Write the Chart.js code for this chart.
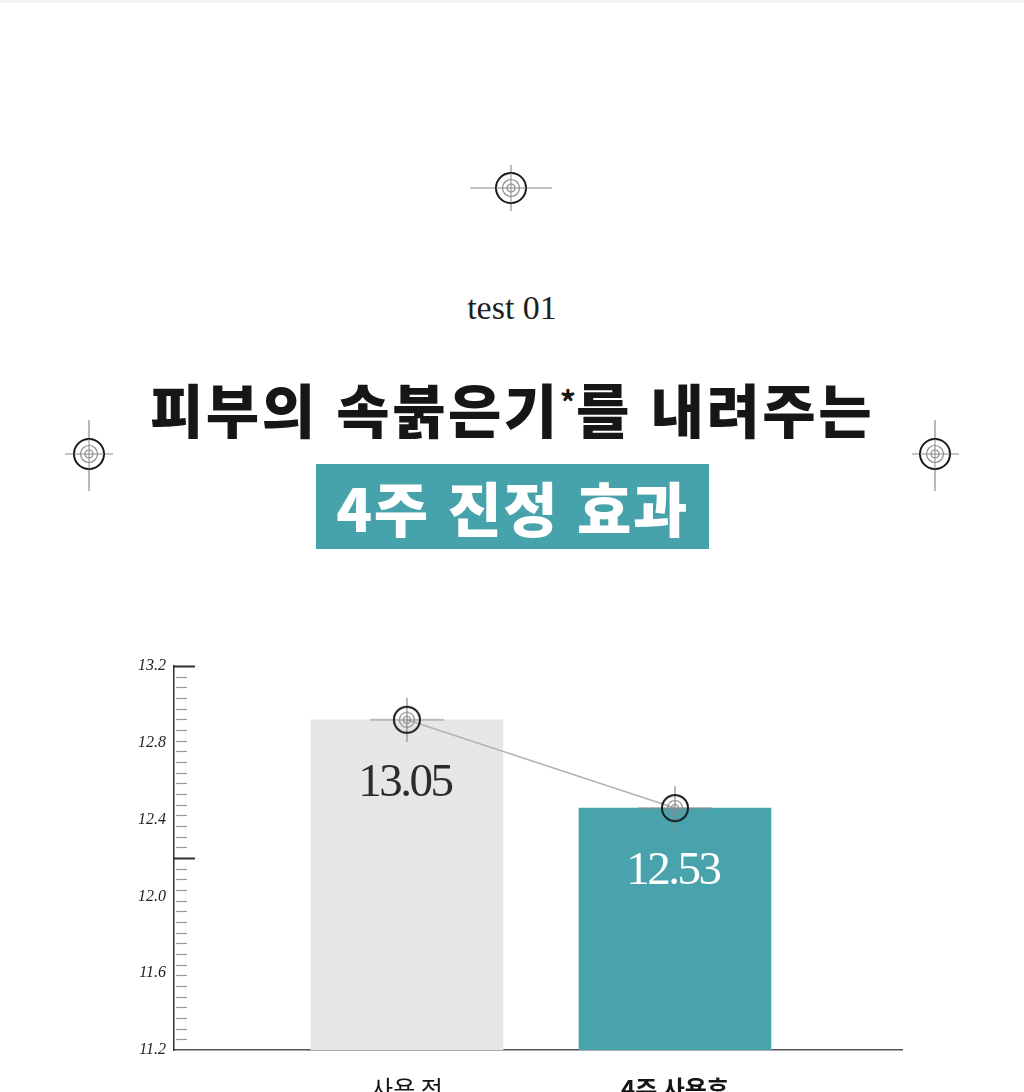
<!DOCTYPE html>
<html lang="ko">
<head>
<meta charset="utf-8">
<title>피부의 속붉은기 4주 진정 효과</title>
<script src="https://cdn.jsdelivr.net/npm/chart.js@4/dist/chart.umd.min.js"></script>
<style>
  html, body { margin: 0; padding: 0; background: #ffffff; }
  body { width: 1024px; height: 1092px; position: relative; overflow: hidden; }
  #topband { position: absolute; left: 0; top: 0; width: 1024px; height: 3px; background: #f4f4f4; }
  #deco { position: absolute; left: 0; top: 0; }
  #test { position: absolute; left: 0; width: 1024px; top: 291px; text-align: center;
          font-family: "Liberation Serif", serif; font-size: 34px; line-height: 34px; color: #1e1e1e; }
  #title { position: absolute; left: 0; width: 1024px; top: 379px; text-align: center;
           font-family: "Noto Sans CJK KR", sans-serif; font-weight: 900; font-size: 58px;
           line-height: 58px; color: #161616; letter-spacing: 2.5px; }
  #title sup { font-size: 32px; vertical-align: 0; position: relative; top: -18px; font-weight: 700; letter-spacing: 0; }
  #box { position: absolute; left: 316px; top: 464px; width: 393px; height: 85px; background: #47a3ab;
         color: #ffffff; text-align: center; font-family: "Noto Sans CJK KR", sans-serif;
         font-weight: 900; font-size: 59px; line-height: 85px; letter-spacing: 1.5px; }
  #chartwrap { position: absolute; left: 0; top: 640px; width: 1024px; height: 452px; }
</style>
</head>
<body>
<div id="topband"></div>
<svg id="deco" width="1024" height="1092" xmlns="http://www.w3.org/2000/svg">
  <g transform="translate(511,188)">
    <line x1="-41" y1="0" x2="41" y2="0" stroke="#8a8a8a" stroke-width="1.2"/>
    <line x1="0" y1="-23" x2="0" y2="23" stroke="#8a8a8a" stroke-width="1.2"/>
    <circle r="15" fill="#fff" stroke="#1a1a1a" stroke-width="2"/>
    <circle r="8.5" fill="none" stroke="#8a8a8a" stroke-width="1.2"/>
    <circle r="4" fill="none" stroke="#8a8a8a" stroke-width="1.2"/>
    <line x1="-15" y1="0" x2="15" y2="0" stroke="#8a8a8a" stroke-width="1"/>
    <line x1="0" y1="-15" x2="0" y2="15" stroke="#8a8a8a" stroke-width="1"/>
  </g>
  <g transform="translate(89,454)">
    <line x1="-24" y1="0" x2="24" y2="0" stroke="#8a8a8a" stroke-width="1.2"/>
    <line x1="0" y1="-34" x2="0" y2="37" stroke="#8a8a8a" stroke-width="1.2"/>
    <circle r="15" fill="#fff" stroke="#1a1a1a" stroke-width="2"/>
    <circle r="8.5" fill="none" stroke="#8a8a8a" stroke-width="1.2"/>
    <circle r="4" fill="none" stroke="#8a8a8a" stroke-width="1.2"/>
    <line x1="-15" y1="0" x2="15" y2="0" stroke="#8a8a8a" stroke-width="1"/>
    <line x1="0" y1="-15" x2="0" y2="15" stroke="#8a8a8a" stroke-width="1"/>
  </g>
  <g transform="translate(935,454)">
    <line x1="-23" y1="0" x2="24" y2="0" stroke="#8a8a8a" stroke-width="1.2"/>
    <line x1="0" y1="-34" x2="0" y2="37" stroke="#8a8a8a" stroke-width="1.2"/>
    <circle r="15" fill="#fff" stroke="#1a1a1a" stroke-width="2"/>
    <circle r="8.5" fill="none" stroke="#8a8a8a" stroke-width="1.2"/>
    <circle r="4" fill="none" stroke="#8a8a8a" stroke-width="1.2"/>
    <line x1="-15" y1="0" x2="15" y2="0" stroke="#8a8a8a" stroke-width="1"/>
    <line x1="0" y1="-15" x2="0" y2="15" stroke="#8a8a8a" stroke-width="1"/>
  </g>
</svg>
<div id="test">test 01</div>
<div id="title">피부의 속붉은기<sup>*</sup>를 내려주는</div>
<div id="box">4주 진정 효과</div>
<div id="chartwrap"><canvas id="chart"></canvas></div>

<script>
// ---------------- data ----------------
const categories = ['사용 전', '4주 사용후'];
const barValues = [12.92, 12.46];          // bar tops as read against the axis
const valueLabels = ['13.05', '12.53'];    // numbers printed inside the bars
const yTickLabels = [11.2, 11.6, 12.0, 12.4, 12.8, 13.2];
const yMin = 11.2;
const yMax = 13.2;
const minorTickCount = 36;
const majorTickValues = [12.2, 13.2];

// ---------------- crosshair point image ----------------
function makeCrosshair() {
  const c = document.createElement('canvas');
  c.width = 80; c.height = 46;
  const g = c.getContext('2d');
  const cx = 40, cy = 23;
  g.strokeStyle = '#8a8a8a'; g.lineWidth = 1.2;
  g.beginPath(); g.moveTo(cx - 37, cy); g.lineTo(cx + 37, cy); g.stroke();
  g.beginPath(); g.moveTo(cx, cy - 22); g.lineTo(cx, cy + 22); g.stroke();
  g.beginPath(); g.arc(cx, cy, 7.5, 0, Math.PI * 2); g.stroke();
  g.beginPath(); g.arc(cx, cy, 3.5, 0, Math.PI * 2); g.stroke();
  g.strokeStyle = '#1a1a1a'; g.lineWidth = 2;
  g.beginPath(); g.arc(cx, cy, 13, 0, Math.PI * 2); g.stroke();
  return c;
}
const crosshair = makeCrosshair();

// ---------------- plugins ----------------
const axisTicksPlugin = {
  id: 'axisTicks',
  afterDraw(chart) {
    const y = chart.scales.y;
    const left = chart.chartArea.left;
    const ctx = chart.ctx;
    ctx.save();
    for (let i = 1; i <= minorTickCount; i++) {
      const v = yMin + i * (yMax - yMin) / minorTickCount;
      const isMajor = majorTickValues.some(m => Math.abs(m - v) < 1e-6);
      const py = Math.round(y.getPixelForValue(v)) + 0.5;
      ctx.beginPath();
      if (isMajor) {
        ctx.strokeStyle = '#2e2e2e'; ctx.lineWidth = 2;
        ctx.moveTo(left, py); ctx.lineTo(left + 21, py);
      } else {
        ctx.strokeStyle = '#9a9a9a'; ctx.lineWidth = 1.2;
        ctx.moveTo(left + 2, py); ctx.lineTo(left + 13, py);
      }
      ctx.stroke();
    }
    ctx.restore();
  }
};

const valueLabelPlugin = {
  id: 'valueLabels',
  afterDatasetsDraw(chart) {
    const meta = chart.getDatasetMeta(1);
    const ctx = chart.ctx;
    ctx.save();
    ctx.font = '47px "Liberation Serif", serif';
    ctx.letterSpacing = '-2.5px';
    ctx.textAlign = 'center';
    ctx.textBaseline = 'middle';
    meta.data.forEach((el, i) => {
      ctx.fillStyle = i === 0 ? '#2b2b2b' : '#ffffff';
      ctx.fillText(valueLabels[i], el.x - 2, el.y + 64);
    });
    ctx.restore();
  }
};

// ---------------- chart ----------------
const points = barValues.map((v, i) => ({ x: i, y: v }));

new Chart(document.getElementById('chart'), {
  type: 'bar',
  data: {
    datasets: [
      {
        type: 'line',
        data: points,
        borderColor: '#b3b3b3',
        borderWidth: 1.5,
        pointStyle: crosshair,
        pointRadius: 13,
        order: 0
      },
      {
        type: 'bar',
        data: points,
        backgroundColor: ['#e6e6e6', '#48a3ac'],
        barThickness: 192,
        borderWidth: 0,
        order: 1
      }
    ]
  },
  plugins: [axisTicksPlugin, valueLabelPlugin],
  options: {
    responsive: true,
    maintainAspectRatio: false,
    animation: false,
    devicePixelRatio: 1,
    layout: { padding: { top: 26, right: 122, left: 0, bottom: 0 } },
    plugins: { legend: { display: false }, tooltip: { enabled: false } },
    scales: {
      x: {
        type: 'linear',
        offset: false,
        min: -0.869,
        max: 1.847,
        afterBuildTicks: s => { s.ticks = categories.map((c, i) => ({ value: i })); },
        afterFit: s => { s.height = 42; },
        grid: { display: false, drawTicks: false, offset: false },
        border: { display: true, color: '#555555', width: 1.5 },
        ticks: {
          padding: 24,
          autoSkip: false,
          maxRotation: 0,
          color: '#151515',
          callback: (v) => categories[v] !== undefined ? categories[v] : '',
          font: (ctx) => ({ family: '"Noto Sans CJK KR", sans-serif', size: 24,
                            weight: ctx.index === 1 ? '700' : '400' })
        }
      },
      y: {
        type: 'linear',
        min: yMin,
        max: yMax,
        afterBuildTicks: s => { s.ticks = yTickLabels.map(v => ({ value: v })); },
        afterFit: s => { s.width = 174; },
        grid: { display: false, drawTicks: false },
        border: { display: true, color: '#333333', width: 1.5 },
        ticks: {
          padding: 8,
          color: '#222222',
          callback: v => Number(v).toFixed(1),
          font: { family: '"Liberation Serif", serif', size: 16, style: 'italic' }
        }
      }
    }
  }
});
</script>
</body>
</html>
